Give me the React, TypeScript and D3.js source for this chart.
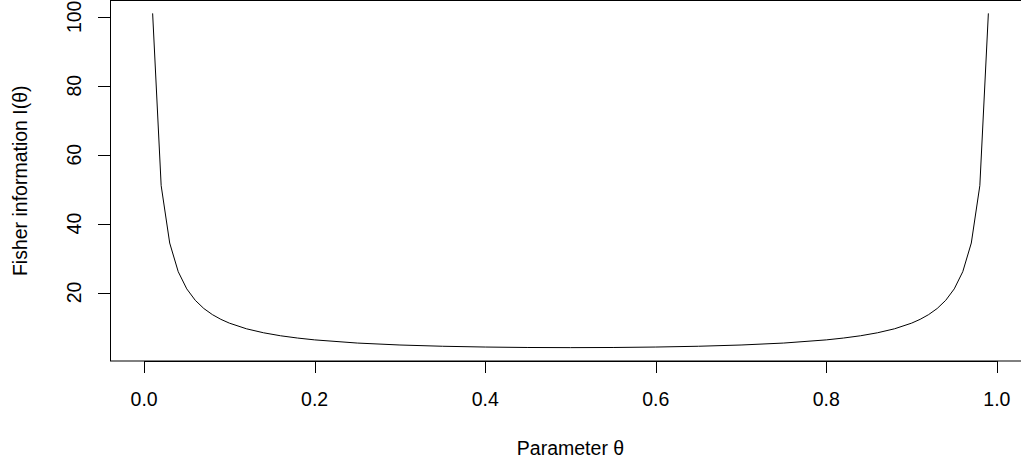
import React, { useEffect, useRef } from "react";
import * as d3 from "d3";

// Valores: información de Fisher por parámetro
const theta = [
  0.01, 0.02, 0.03, 0.04, 0.05, 0.06, 0.07, 0.08, 0.09, 0.1,
  0.12, 0.14, 0.16, 0.18, 0.2, 0.25, 0.3, 0.35, 0.4, 0.45, 0.5,
  0.55, 0.6, 0.65, 0.7, 0.75, 0.8, 0.82, 0.84, 0.86, 0.88,
  0.9, 0.91, 0.92, 0.93, 0.94, 0.95, 0.96, 0.97, 0.98, 0.99,
];
const info = [
  101.01, 51.02, 34.36, 26.04, 21.05, 17.73, 15.36, 13.59, 12.21, 11.11,
  9.47, 8.31, 7.44, 6.78, 6.25, 5.33, 4.76, 4.4, 4.17, 4.04, 4.0,
  4.04, 4.17, 4.4, 4.76, 5.33, 6.25, 6.78, 7.44, 8.31, 9.47,
  11.11, 12.21, 13.59, 15.36, 17.73, 21.05, 26.04, 34.36, 51.02, 101.01,
];
const xTicks = [0, 0.2, 0.4, 0.6, 0.8, 1.0];
const yTicks = [20, 40, 60, 80, 100];

const App = () => {
  const svgRef = useRef<SVGSVGElement>(null);

  useEffect(() => {
    const svg = d3.select(svgRef.current);
    svg.selectAll("*").remove();

    const W = 1021;
    const H = 465;
    const left = 110;
    const right = 1031; // el marco se sale de la ventana
    const top = 0.5;
    const bottom = 361;
    const font = "'Liberation Sans', Arial, sans-serif";
    const fs = "19.5px";

    const x = d3.scaleLinear().domain([-0.04, 1.04]).range([left, right]);
    const y = d3.scaleLinear().domain([0.12, 104.89]).range([bottom, 0]);

    svg.attr("width", W).attr("height", H);

    // Marco
    svg
      .append("rect")
      .attr("x", left + 0.5)
      .attr("y", top)
      .attr("width", right - left)
      .attr("height", bottom - top)
      .attr("fill", "none")
      .attr("stroke", "#000")
      .attr("stroke-width", 1);

    // Curva
    const line = d3
      .line<number>()
      .x((d, i) => x(theta[i]))
      .y((d) => y(d));
    svg
      .append("path")
      .datum(info)
      .attr("d", line)
      .attr("fill", "none")
      .attr("stroke", "#000")
      .attr("stroke-width", 1);

    // Eje X
    const gx = svg.append("g");
    gx.append("line")
      .attr("x1", x(xTicks[0]))
      .attr("x2", x(xTicks[xTicks.length - 1]))
      .attr("y1", bottom + 0.5)
      .attr("y2", bottom + 0.5)
      .attr("stroke", "#000");
    gx.selectAll("line.t")
      .data(xTicks)
      .enter()
      .append("line")
      .attr("class", "t")
      .attr("x1", (d) => Math.round(x(d)) + 0.5)
      .attr("x2", (d) => Math.round(x(d)) + 0.5)
      .attr("y1", bottom)
      .attr("y2", bottom + 12)
      .attr("stroke", "#000");
    gx.selectAll("text")
      .data(xTicks)
      .enter()
      .append("text")
      .attr("x", (d) => x(d))
      .attr("y", 406)
      .attr("text-anchor", "middle")
      .style("font-family", font)
      .style("font-size", fs)
      .text((d) => d.toFixed(1));

    // Eje Y
    const gy = svg.append("g");
    gy.append("line")
      .attr("x1", left + 0.5)
      .attr("x2", left + 0.5)
      .attr("y1", y(yTicks[0]))
      .attr("y2", y(yTicks[yTicks.length - 1]))
      .attr("stroke", "#000");
    gy.selectAll("line.t")
      .data(yTicks)
      .enter()
      .append("line")
      .attr("class", "t")
      .attr("x1", left - 12)
      .attr("x2", left)
      .attr("y1", (d) => Math.round(y(d)) + 0.5)
      .attr("y2", (d) => Math.round(y(d)) + 0.5)
      .attr("stroke", "#000");
    gy.selectAll("text")
      .data(yTicks)
      .enter()
      .append("text")
      .attr("transform", (d) => `translate(81,${y(d)}) rotate(-90)`)
      .attr("text-anchor", "middle")
      .style("font-family", font)
      .style("font-size", fs)
      .text((d) => d);

    // Títulos de ejes
    svg
      .append("text")
      .attr("x", (left + right) / 2)
      .attr("y", 455)
      .attr("text-anchor", "middle")
      .style("font-family", font)
      .style("font-size", fs)
      .text("Parameter θ");

    svg
      .append("text")
      .attr("transform", `translate(27,${(top + bottom) / 2}) rotate(-90)`)
      .attr("text-anchor", "middle")
      .style("font-family", font)
      .style("font-size", fs)
      .text("Fisher information I(θ)");
  }, []);

  return (
    <div style={{ position: "absolute", left: 0, top: 0 }}>
      <svg ref={svgRef}></svg>
    </div>
  );
};

export default App;
